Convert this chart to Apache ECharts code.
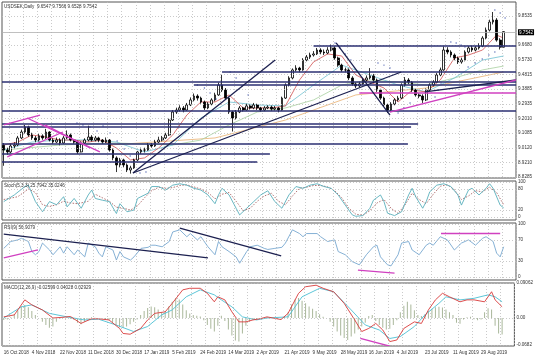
<!DOCTYPE html>
<html><head><meta charset="utf-8">
<script src="https://cdn.jsdelivr.net/npm/echarts@6/dist/echarts.min.js"></script>
<style>html,body{margin:0;padding:0;background:#fff}#c{width:536px;height:358px}</style>
</head><body><div id="c"></div>
<script>
// ---------- DATA ----------
const xTickLabels = ['16 Oct 2018','4 Nov 2018','22 Nov 2018','11 Dec 2018','30 Dec 2018','17 Jan 2019','5 Feb 2019','24 Feb 2019','14 Mar 2019','2 Apr 2019','21 Apr 2019','9 May 2019','28 May 2019','16 Jun 2019','4 Jul 2019','23 Jul 2019','11 Aug 2019','29 Aug 2019'];
const N_CATS = 146;
const priceTicks = [9.8535, 9.6680, 9.5730, 9.4815, 9.3885, 9.2935, 9.2010, 9.1085, 9.0120, 8.9210, 8.8285];
const lastPrice = 9.7542;
const stochTicks = [100, 80, 20, 0];
const rsiTicks = [100, 70, 30, 0];
const macdTicks = [0.09062, 0, -0.0682];
const macdTickLabels = ['0.09062', '0.00', '-0.0682'];

// [open, close, low, high]
const ohlc = [
[9.030,9.000,8.900,9.045],[9.000,8.988,8.970,9.015],[8.988,9.026,8.980,9.040],[9.026,9.032,9.010,9.050],[9.032,9.077,9.025,9.090],
[9.077,9.115,9.070,9.130],[9.115,9.147,9.105,9.160],[9.147,9.096,9.085,9.155],[9.096,9.077,9.065,9.110],[9.077,9.064,9.050,9.090],
[9.064,9.090,9.055,9.105],[9.090,9.077,9.065,9.100],[9.077,9.115,9.070,9.135],[9.115,9.064,9.055,9.120],[9.064,9.051,9.040,9.075],
[9.051,9.064,9.045,9.080],[9.064,9.045,9.030,9.075],[9.045,9.077,9.040,9.090],[9.077,9.096,9.070,9.125],[9.096,9.064,9.055,9.105],
[9.064,9.051,9.040,9.070],[9.051,8.988,8.975,9.060],[8.988,9.045,8.985,9.055],[9.045,9.064,9.035,9.075],[9.064,9.083,9.055,9.155],
[9.083,9.064,9.055,9.095],[9.064,9.077,9.055,9.090],[9.077,9.064,9.050,9.085],[9.064,9.051,9.040,9.070],[9.051,9.064,9.045,9.080],
[9.064,9.000,8.990,9.070],[9.000,8.950,8.935,9.010],[8.950,8.905,8.860,8.960],[8.905,8.937,8.890,8.950],[8.937,8.905,8.890,8.945],
[8.905,8.873,8.860,8.915],[8.873,8.886,8.850,8.900],[8.886,8.937,8.880,8.945],[8.937,8.988,8.930,8.995],[8.988,9.000,8.975,9.015],
[9.000,9.000,8.985,9.015],[9.000,9.032,8.995,9.045],[9.032,9.026,9.015,9.045],[9.026,9.051,9.020,9.065],[9.051,9.064,9.045,9.085],
[9.064,9.077,9.055,9.090],[9.077,9.096,9.070,9.110],[9.096,9.191,9.090,9.200],[9.191,9.242,9.185,9.255],[9.242,9.255,9.230,9.270],
[9.255,9.268,9.245,9.285],[9.268,9.255,9.240,9.280],[9.255,9.287,9.250,9.300],[9.287,9.319,9.280,9.335],[9.319,9.344,9.310,9.360],
[9.344,9.331,9.315,9.355],[9.331,9.306,9.295,9.340],[9.306,9.268,9.255,9.315],[9.268,9.293,9.260,9.305],[9.293,9.319,9.285,9.330],
[9.319,9.351,9.310,9.365],[9.351,9.414,9.345,9.430],[9.414,9.382,9.370,9.478],[9.382,9.331,9.320,9.395],[9.331,9.242,9.230,9.340],
[9.242,9.204,9.118,9.250],[9.204,9.242,9.195,9.255],[9.242,9.268,9.235,9.280],[9.268,9.255,9.245,9.275],[9.255,9.281,9.250,9.295],
[9.281,9.268,9.258,9.290],[9.268,9.287,9.260,9.300],[9.287,9.268,9.255,9.295],[9.268,9.255,9.245,9.275],[9.255,9.268,9.248,9.280],
[9.268,9.274,9.260,9.285],[9.274,9.261,9.250,9.283],[9.261,9.268,9.252,9.280],[9.268,9.255,9.240,9.275],[9.255,9.331,9.250,9.340],
[9.331,9.414,9.325,9.425],[9.414,9.459,9.405,9.470],[9.459,9.510,9.450,9.520],[9.510,9.522,9.500,9.540],[9.522,9.510,9.495,9.530],
[9.510,9.573,9.505,9.585],[9.573,9.592,9.565,9.605],[9.592,9.605,9.580,9.620],[9.605,9.612,9.595,9.630],[9.612,9.637,9.605,9.650],
[9.637,9.624,9.610,9.648],[9.624,9.618,9.605,9.640],[9.618,9.637,9.610,9.655],[9.637,9.650,9.628,9.672],[9.650,9.586,9.575,9.660],
[9.586,9.541,9.530,9.595],[9.541,9.510,9.498,9.550],[9.510,9.510,9.495,9.525],[9.510,9.459,9.445,9.520],[9.459,9.421,9.410,9.470],
[9.421,9.408,9.395,9.430],[9.408,9.421,9.400,9.435],[9.421,9.446,9.415,9.460],[9.446,9.459,9.435,9.475],[9.459,9.472,9.450,9.522],
[9.472,9.446,9.435,9.485],[9.446,9.382,9.370,9.455],[9.382,9.331,9.320,9.390],[9.331,9.287,9.275,9.340],[9.287,9.255,9.236,9.295],
[9.255,9.293,9.248,9.305],[9.293,9.319,9.285,9.330],[9.319,9.331,9.310,9.345],[9.331,9.414,9.325,9.425],[9.414,9.446,9.405,9.465],
[9.446,9.433,9.420,9.458],[9.433,9.382,9.370,9.440],[9.382,9.351,9.340,9.390],[9.351,9.344,9.330,9.362],[9.344,9.319,9.300,9.355],
[9.319,9.382,9.312,9.392],[9.382,9.414,9.375,9.425],[9.414,9.433,9.405,9.445],[9.433,9.478,9.428,9.490],[9.478,9.510,9.470,9.525],
[9.510,9.637,9.505,9.660],[9.637,9.624,9.610,9.655],[9.624,9.605,9.590,9.635],[9.605,9.586,9.572,9.615],[9.586,9.561,9.548,9.595],
[9.561,9.573,9.550,9.588],[9.573,9.624,9.565,9.635],[9.624,9.650,9.615,9.662],[9.650,9.637,9.625,9.665],[9.637,9.650,9.628,9.662],
[9.650,9.662,9.640,9.680],[9.662,9.713,9.655,9.725],[9.713,9.764,9.705,9.780],[9.764,9.815,9.755,9.830],[9.815,9.828,9.800,9.879],
[9.828,9.700,9.690,9.840],[9.700,9.655,9.640,9.712],[9.6547,9.7542,9.6528,9.7566]
];

// moving averages: [barIndex, price]
const maFast = [[0,9.032],[4,9.051],[8,9.096],[12,9.083],[16,9.064],[20,9.064],[24,9.051],[28,9.064],[32,9.013],[36,8.937],[40,8.950],[44,9.013],[48,9.096],[52,9.223],[56,9.306],[60,9.306],[64,9.351],[68,9.268],[72,9.268],[76,9.268],[80,9.281],[84,9.446],[88,9.561],[92,9.612],[96,9.599],[100,9.478],[104,9.433],[108,9.395],[112,9.306],[116,9.382],[120,9.370],[124,9.446],[128,9.586],[132,9.605],[136,9.637],[140,9.732],[142,9.713]];
const maMid = [[0,9.000],[8,9.051],[16,9.064],[24,9.064],[32,9.051],[40,8.988],[48,9.032],[56,9.204],[64,9.306],[72,9.287],[80,9.281],[88,9.414],[96,9.541],[104,9.478],[112,9.414],[120,9.370],[128,9.459],[136,9.573],[142,9.599]];
const maSlow = [[0,9.000],[16,9.032],[32,9.045],[48,9.032],[56,9.064],[64,9.160],[72,9.242],[80,9.268],[88,9.319],[96,9.414],[104,9.446],[112,9.433],[120,9.414],[128,9.459],[136,9.510],[142,9.535]];
const maLong = [[30,9.032],[60,9.077],[80,9.191],[100,9.351],[120,9.395],[142,9.497]];
// parabolic SAR dots: [bar, price]
const sarDots = [[20.8,9.172],[22.5,9.160],[24.5,9.147],[26.5,9.121],[28.2,9.153],[30.2,9.109],[32.2,9.058],[34.2,9.007],[35.9,8.962],
[38.7,8.854],[40.4,8.860],[55,9.414],[57,9.395],[58.6,9.363],[60.3,9.325],[64.3,9.497],[66,9.459],[67.7,9.408],[69.4,9.351],
[94.1,9.682],[95.5,9.650],[97,9.612],[98.6,9.573],[106.3,9.554],[108,9.541],[109.7,9.522],[112,9.236],[113.7,9.268],[115.4,9.300],
[122.5,9.338],[123.4,9.382],[124.2,9.427],[127,9.688],[128.5,9.682],[129.9,9.669],[131,9.656],[131.9,9.529],[133.9,9.554],
[135.9,9.580],[137.8,9.605],[139.5,9.624],[139.5,9.892],[141,9.873],[142.4,9.841]];

// drawn objects: [bar1, price1, bar2, price2]
const navyTrend = [[36.7,8.854,77.1,9.573],[36.7,8.854,112.9,9.497],[94.4,9.682,109.7,9.223],[119.6,9.370,145.5,9.446]];
const magentaTrend = [[109.7,9.242,145.5,9.446],[0,9.160,10.3,9.223],[6.6,9.204,27.3,8.988],[1,8.956,16.8,9.115],[11.7,9.160,24.5,9.013]];
// horizontal levels: [price, fromBar, toBar]
const navyLevels = [[9.662,88,145.5],[9.500,62,145.5],[9.433,-0.5,145.5],[9.414,54,145.5],[9.249,-0.5,145.5],[9.169,-0.5,117.7],[9.150,-0.5,115.7],[9.0375,-0.5,114.8],[8.974,-0.5,75.6],[8.923,-0.5,72]];
const magentaLevels = [[9.365,101,145.5]];

// Stochastic: [bar, value]
const stochMain = [[0,44],[3,63],[6,87],[7,91],[9,44],[11,15],[13,44],[15,35],[17,58],[18,29],[20,53],[22,25],[24,63],[25,77],[26,53],[28,48],[30,44],[32,10],[33,38],[35,15],[37,20],[38,53],[41,68],[42,87],[44,87],[46,77],[48,91],[50,95],[52,91],[54,82],[56,77],[58,63],[60,38],[61,63],[62,82],[64,63],[66,25],[67,6],[69,25],[71,44],[73,63],[75,75],[77,44],[79,25],[81,63],[83,87],[85,82],[87,91],[89,95],[91,87],[93,82],[95,63],[97,34],[99,6],[100,2],[102,4],[104,25],[105,48],[107,63],[108,44],[109,11],[111,4],[113,15],[115,63],[116,82],[117,58],[119,25],[120,44],[121,72],[123,91],[125,95],[127,87],[129,63],[130,34],[132,77],[133,82],[135,63],[137,82],[138,95],[139,82],[141,34],[142,26]];
const stochSignal = [[0,50],[4,58],[7,80],[9,70],[11,35],[13,30],[15,35],[17,45],[19,40],[21,38],[24,45],[26,65],[28,55],[30,45],[32,28],[34,25],[36,20],[38,32],[40,55],[42,75],[44,85],[46,82],[48,84],[50,90],[52,92],[54,86],[56,80],[58,70],[60,52],[62,65],[64,70],[66,45],[68,18],[70,25],[72,45],[74,60],[76,68],[78,45],[80,35],[82,60],[84,82],[86,85],[88,90],[90,90],[92,86],[94,75],[96,55],[98,25],[100,8],[102,5],[104,18],[106,40],[108,50],[110,25],[112,10],[114,35],[116,68],[118,50],[120,38],[122,65],[124,88],[126,92],[128,78],[130,50],[132,60],[134,75],[136,72],[138,85],[140,70],[142,35]];

// RSI: [bar, value]
const rsi = [[0,54],[2,67],[4,70],[5,73],[7,67],[8,48],[9,42],[10,48],[11,64],[13,51],[14,42],[16,57],[17,45],[18,57],[20,42],[21,51],[23,38],[24,64],[26,57],[27,45],[28,38],[29,57],[31,51],[32,32],[33,48],[34,38],[36,32],[37,38],[39,54],[41,56],[42,60],[43,60],[45,57],[47,67],[48,85],[50,89],[52,76],[53,82],[55,70],[56,76],[58,57],[60,42],[61,67],[62,57],[64,48],[66,38],[67,26],[69,48],[70,57],[72,60],[74,54],[75,52],[77,54],[79,56],[80,64],[82,89],[84,82],[85,76],[86,82],[89,82],[90,76],[92,67],[94,70],[95,48],[97,42],[99,29],[101,23],[103,42],[105,57],[106,60],[107,38],[109,23],[110,21],[112,42],[113,64],[115,67],[116,51],[118,42],[120,60],[121,64],[122,60],[124,76],[126,70],[128,51],[130,64],[132,70],[134,60],[136,73],[137,76],[139,67],[140,45],[141,38],[142,57]];
const rsiNavyTrend = [[0,81,58,36],[50,92,78.8,40]];
const rsiMagentaTrend = [[0,36,9.7,51],[124.2,83,141,83],[100.6,13,111,7.5]];

// MACD
const macdHist = [-0.005,-0.004,0.002,0.010,0.020,0.030,0.034,0.028,0.018,0.008,0.000,-0.010,-0.018,-0.025,-0.022,-0.010,-0.002,0.002,0.003,-0.002,
-0.005,-0.012,-0.016,-0.010,-0.003,0.002,0.001,0.000,-0.002,-0.004,-0.006,-0.012,-0.018,-0.024,-0.025,-0.022,-0.016,-0.010,-0.004,0.008,
0.018,0.026,0.030,0.028,0.022,0.014,0.018,0.030,0.042,0.052,0.048,0.035,0.020,0.012,0.008,0.006,0.004,-0.006,-0.018,-0.028,
-0.035,-0.020,0.006,-0.008,-0.030,-0.045,-0.058,-0.061,-0.040,-0.020,-0.010,-0.005,-0.003,-0.002,0.000,0.002,0.001,0.000,-0.002,-0.001,
0.005,0.015,0.035,0.048,0.052,0.045,0.038,0.030,0.024,0.018,0.010,0.003,0.000,-0.010,-0.022,-0.035,-0.045,-0.052,-0.057,-0.048,
-0.040,-0.030,-0.022,-0.012,0.005,0.008,-0.008,-0.018,-0.025,-0.030,-0.028,-0.018,-0.006,0.015,0.032,0.042,0.035,0.020,0.008,0.005,
0.010,0.018,0.024,0.028,0.029,0.027,0.022,0.015,0.008,-0.012,-0.015,-0.004,0.002,0.003,-0.003,-0.006,-0.004,0.015,0.025,0.022,
-0.020,-0.040,-0.043];
const macdMain = [[0,0.003],[3,0.008],[6,0.047],[8,0.034],[11,0.021],[14,0.000],[17,0.002],[19,0.004],[22,-0.014],[25,-0.002],[27,-0.002],[30,-0.005],[33,-0.027],[34,-0.040],[36,-0.042],[39,-0.027],[41,-0.005],[43,0.012],[46,0.016],[48,0.038],[51,0.073],[53,0.077],[56,0.077],[58,0.064],[60,0.042],[61,0.055],[63,0.047],[65,0.016],[67,-0.010],[69,-0.010],[71,-0.005],[73,-0.002],[75,0.003],[79,-0.004],[81,0.012],[84,0.064],[86,0.081],[89,0.085],[91,0.077],[94,0.068],[97,0.038],[100,-0.005],[102,-0.035],[104,-0.027],[106,-0.014],[108,-0.031],[110,-0.061],[112,-0.057],[114,-0.027],[117,-0.010],[119,-0.014],[121,0.021],[123,0.047],[125,0.064],[127,0.055],[130,0.042],[132,0.047],[134,0.047],[137,0.042],[139,0.068],[140,0.047],[142,0.029]];
const macdSignal = [[0,0.000],[5,0.029],[8,0.034],[13,0.012],[18,0.003],[23,-0.005],[27,-0.003],[32,-0.018],[37,-0.035],[41,-0.022],[45,0.008],[48,0.021],[52,0.055],[56,0.073],[60,0.060],[62,0.047],[65,0.029],[68,0.003],[72,-0.005],[75,0.000],[81,0.003],[85,0.055],[90,0.077],[94,0.068],[99,0.021],[103,-0.018],[107,-0.031],[110,-0.053],[113,-0.048],[117,-0.022],[120,0.008],[124,0.038],[126,0.055],[130,0.047],[134,0.051],[138,0.060],[140,0.055],[142,0.042]];
const macdMagentaTrend = [[101.6,-0.053,110,-0.073]];

// ---------- CHART ----------
const chart = echarts.init(document.getElementById('c'), null, {renderer: 'canvas'});
const cats = Array.from({length: N_CATS}, (_, i) => String(i));
const FONT = 'Liberation Sans';
const FS = 4.6;
const TXT = '#333';
const grids = [
  {left: 2, right: 20, top: 2, height: 176},
  {left: 2, right: 20, top: 181, height: 39},
  {left: 2, right: 20, top: 223, height: 57},
  {left: 2, right: 20, top: 283, height: 63}
].map(g => Object.assign(g, {show: true, borderColor: '#555', borderWidth: 1, backgroundColor: '#fff'}));
const dotted = {color: '#bdbdbd', type: [1, 2], width: 0.8};

function catAxis(g, labels) {
  return {
    type: 'category', gridIndex: g, data: cats, boundaryGap: true,
    axisLine: {show: false}, axisTick: {show: false},
    axisLabel: labels ? {
      show: true, interval: (i) => i % 8 === 0, align: 'left', margin: 4,
      formatter: (v, i) => xTickLabels[Math.round(+v / 8)] || '',
      fontSize: FS, fontFamily: FONT, color: TXT
    } : {show: false},
    splitLine: {show: true, interval: (i) => i % 4 === 2, lineStyle: dotted}
  };
}
function valX(g) { return {type: 'value', gridIndex: g, min: -0.5, max: N_CATS - 0.5, show: false}; }
function yAx(g, min, max, ticks, fmt) {
  return {
    type: 'value', gridIndex: g, position: 'right', min: min, max: max,
    splitLine: {show: false}, axisLine: {show: false}, axisTick: {show: false},
    axisLabel: {customValues: ticks, formatter: fmt, fontSize: FS, fontFamily: FONT, color: TXT, margin: 2}
  };
}
function gridMarks(ticks) {
  return {silent: true, symbol: ['none', 'none'], label: {show: false},
    lineStyle: dotted, data: ticks.map(v => ({yAxis: v}))};
}
function segs(list, color, width) {
  return list.map(s => ({coords: [[s[0], s[1]], [s[2], s[3]]], lineStyle: {color: color, width: width, opacity: 1}}));
}
function levels(list, color, width) {
  return list.map(s => ({coords: [[s[1], s[0]], [s[2], s[0]]], lineStyle: {color: color, width: width, opacity: 1}}));
}
function lineS(xi, yi, data, color, width, type) {
  return {type: 'line', xAxisIndex: xi, yAxisIndex: yi, data: data, symbol: 'none', silent: true,
    lineStyle: {color: color, width: width, type: type || 'solid'}, z: 3};
}
function linesS(xi, yi, data) {
  return {type: 'lines', coordinateSystem: 'cartesian2d', xAxisIndex: xi, yAxisIndex: yi, silent: true, z: 5,
    lineStyle: {opacity: 1}, data: data};
}

const option = {
  animation: false,
  backgroundColor: '#fff',
  textStyle: {fontFamily: FONT},
  title: [
    {text: 'USDSEK,Daily  9.6547 9.7566 9.6528 9.7542', left: 4, top: 4},
    {text: 'Stoch(5,3,3) 25.7942 35.0246', left: 4, top: 183},
    {text: 'RSI(9) 56.9079', left: 4, top: 225},
    {text: 'MACD(12,26,9) -0.02599 0.04028 0.02929', left: 4, top: 285}
  ].map(t => Object.assign(t, {padding: 0, textStyle: {fontSize: FS, fontWeight: 'normal', color: TXT, fontFamily: FONT}})),
  grid: grids,
  xAxis: [catAxis(0, false), valX(0), catAxis(1, false), valX(1), catAxis(2, false), valX(2), catAxis(3, true), valX(3)],
  yAxis: [
    yAx(0, 8.8221, 9.9426, priceTicks, v => v.toFixed(4)),
    yAx(1, -8.57, 102.86, stochTicks, v => String(Math.round(v))),
    yAx(2, -5.66, 101.9, rsiTicks, v => String(Math.round(v))),
    yAx(3, -0.0725, 0.0907, macdTicks, v => {
      let k = 0; macdTicks.forEach((t, j) => { if (Math.abs(t - v) < Math.abs(macdTicks[k] - v)) k = j; });
      return macdTickLabels[k];
    })
  ],
  series: [
    {
      type: 'candlestick', xAxisIndex: 0, yAxisIndex: 0, data: ohlc, barWidth: 2.2, silent: true, z: 4,
      itemStyle: {color: '#ffffff', color0: '#000000', borderColor: '#000000', borderColor0: '#000000', borderWidth: 0.8},
      markLine: {
        silent: true, symbol: ['none', 'none'],
        data: priceTicks.map(v => ({yAxis: v, lineStyle: dotted, label: {show: false}})).concat([{
          yAxis: lastPrice, lineStyle: {color: '#b0b0b0', type: 'solid', width: 0.8},
          label: {show: true, position: 'end', distance: 2, formatter: lastPrice.toFixed(4),
            backgroundColor: '#000', color: '#fff', fontSize: FS, fontFamily: FONT, padding: [1, 1, 0, 1]}
        }])
      }
    },
    lineS(1, 0, maLong, '#e8b070', 0.8),
    lineS(1, 0, maSlow, '#a8d0a0', 0.8),
    lineS(1, 0, maMid, '#70c0d0', 0.8),
    lineS(1, 0, maFast, '#d05050', 0.8),
    {type: 'scatter', xAxisIndex: 1, yAxisIndex: 0, data: sarDots, symbolSize: 1.4, silent: true, z: 4,
      itemStyle: {color: '#2840a0'}},
    linesS(1, 0, levels(navyLevels, '#2b2f72', 1.6).concat(levels(magentaLevels, '#d040c0', 1.6))
        .concat(segs(navyTrend, '#1c2050', 1.3)).concat(segs(magentaTrend, '#d040c0', 1.3))),
    // Stochastic
    Object.assign(lineS(3, 1, stochSignal, '#a05050', 0.8, [1.5, 1.5]), {markLine: gridMarks(stochTicks)}),
    lineS(3, 1, stochMain, '#5ab0bc', 0.9),
    // RSI
    Object.assign(lineS(5, 2, rsi, '#78a8d0', 0.9), {markLine: gridMarks(rsiTicks)}),
    linesS(5, 2, segs(rsiNavyTrend, '#1c2050', 1.3).concat(segs(rsiMagentaTrend, '#d040c0', 1.3))),
    // MACD
    {type: 'bar', xAxisIndex: 6, yAxisIndex: 3, data: macdHist, barWidth: 1, silent: true,
      itemStyle: {color: '#a9b79a'}, markLine: gridMarks(macdTicks)},
    lineS(7, 3, macdSignal, '#4cc0d4', 0.9),
    lineS(7, 3, macdMain, '#d83a3a', 0.9),
    linesS(7, 3, segs(macdMagentaTrend, '#d040c0', 1.3))
  ]
};
chart.setOption(option);
</script>
</body></html>
